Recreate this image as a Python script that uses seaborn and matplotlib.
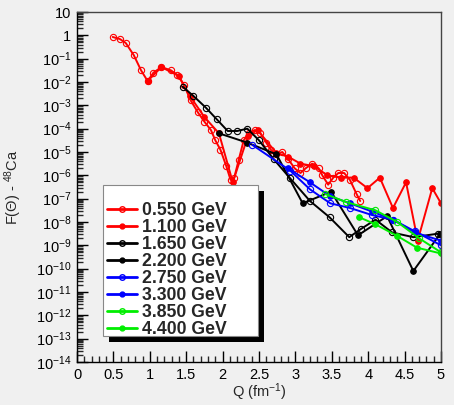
import numpy as np
import pandas as pd
import matplotlib
matplotlib.use("Agg")
import matplotlib.pyplot as plt
import seaborn as sns
from matplotlib.lines import Line2D
from matplotlib.patches import Rectangle
from matplotlib.ticker import FixedLocator, LogLocator, MultipleLocator, NullFormatter

# ---- data (Q in fm^-1, log10 of F) ----
labels = ["0.550 GeV", "1.100 GeV", "1.650 GeV", "2.200 GeV",
          "2.750 GeV", "3.300 GeV", "3.850 GeV", "4.400 GeV"]
colors = ["#ff0000", "#ff0000", "#000000", "#000000",
          "#0000ff", "#0000ff", "#00ee00", "#00ee00"]
filled = [False, True, False, True, False, True, False, True]

q_0550 = [0.49, 0.59, 0.67, 0.78, 0.88, 0.97, 1.05, 1.16, 1.29, 1.38, 1.47, 1.56,
          1.66, 1.75, 1.84, 1.90, 1.97, 2.05, 2.11, 2.16, 2.22, 2.29, 2.36, 2.44,
          2.52, 2.60, 2.66, 2.74, 2.82, 2.90, 2.99, 3.07, 3.14, 3.23, 3.32, 3.37,
          3.45, 3.52, 3.59, 3.67, 3.75, 3.84, 3.89]
f_0550 = [-0.07, -0.16, -0.33, -0.85, -1.50, -1.96, -1.60, -1.36, -1.50, -1.70,
          -2.13, -2.78, -3.30, -3.70, -4.06, -4.50, -4.90, -5.60, -6.20, -6.10,
          -5.35, -4.50, -4.20, -4.06, -4.20, -4.60, -4.90, -5.10, -5.00, -5.30,
          -5.70, -5.90, -5.70, -5.50, -5.70, -6.00, -6.40, -6.10, -5.90, -5.90,
          -6.20, -6.80, -7.10]

q_1100 = [0.97, 1.16, 1.40, 1.55, 1.75, 1.95, 2.14, 2.35, 2.48, 2.74, 2.90, 3.07,
          3.25, 3.44, 3.62, 3.80, 3.99, 4.16, 4.34, 4.52, 4.68, 4.88, 5.00]
f_1100 = [-1.96, -1.36, -1.75, -2.60, -3.50, -4.20, -6.30, -4.30, -4.06, -5.05,
          -5.20, -5.50, -5.60, -6.00, -6.10, -6.10, -6.55, -6.10, -7.40, -6.30,
          -8.80, -6.55, -7.20]

q_1650 = [1.45, 1.60, 1.77, 1.92, 2.07, 2.20, 2.34, 2.50, 2.70, 2.92, 3.20, 3.47,
          3.74, 3.90, 4.10, 4.33, 4.62, 4.96]
f_1650 = [-2.20, -2.60, -3.10, -3.60, -4.10, -4.10, -4.00, -4.50, -5.30, -6.10,
          -7.10, -7.80, -8.65, -8.30, -7.90, -8.45, -8.65, -8.50]

q_2200 = [1.95, 2.34, 2.74, 3.10, 3.49, 3.86, 4.26, 4.62, 4.99]
f_2200 = [-4.20, -4.60, -5.10, -7.20, -6.70, -8.57, -7.75, -10.10, -8.50]

q_2750 = [2.41, 2.93, 3.20, 3.48, 3.75, 4.05, 4.34, 4.64, 5.00]
f_2750 = [-4.70, -5.80, -6.60, -7.20, -7.40, -7.70, -7.90, -8.40, -9.00]

q_3300 = [2.90, 3.20, 3.48, 3.75, 4.05, 4.34, 4.64, 5.00]
f_3300 = [-5.70, -6.30, -6.90, -7.20, -7.55, -7.90, -8.45, -8.80]

q_3850 = [3.41, 3.70, 4.10, 4.40, 4.70, 5.00]
f_3850 = [-6.80, -7.15, -7.50, -8.00, -8.70, -9.30]

q_4400 = [3.88, 4.10, 4.40, 4.67, 5.00]
f_4400 = [-7.80, -8.10, -8.60, -9.10, -9.35]

series_q = [q_0550, q_1100, q_1650, q_2200, q_2750, q_3300, q_3850, q_4400]
series_f = [f_0550, f_1100, f_1650, f_2200, f_2750, f_3300, f_3850, f_4400]

x_ticks = [0, 0.5, 1, 1.5, 2, 2.5, 3, 3.5, 4, 4.5, 5]
x_ticklabels = ["0", "0.5", "1", "1.5", "2", "2.5", "3", "3.5", "4", "4.5", "5"]
y_exps = list(range(1, -15, -1))

# ---- style ----
sns.set_style("ticks")
plt.rcParams["font.family"] = ["Liberation Sans", "DejaVu Sans"]
plt.rcParams["mathtext.fontset"] = "custom"
plt.rcParams["mathtext.rm"] = "Liberation Sans"
plt.rcParams["mathtext.it"] = "Liberation Sans:italic"
plt.rcParams["mathtext.bf"] = "Liberation Sans:bold"

W, H = 454, 405
bg = "#f0f0f0"
fig = plt.figure(figsize=(W/100, H/100), dpi=100, facecolor=bg)
ax = fig.add_axes([77/W, 1-362/H, (441-77)/W, (362-12)/H])
ax.set_facecolor(bg)

for lab, col, fl, qs, fs in zip(labels, colors, filled, series_q, series_f):
    df = pd.DataFrame({"Q": qs, "F": np.power(10.0, fs)})
    kw = dict(marker="o", markersize=4.5 if not fl else 4,
              markeredgecolor=col, markeredgewidth=0.8,
              markerfacecolor=("none" if not fl else col))
    sns.lineplot(data=df, x="Q", y="F", color=col, linewidth=1.4, sort=False,
                 ax=ax, legend=False, **kw)

ax.set_yscale("log")
ax.set_xlim(0, 5)
ax.set_ylim(1e-14, 10)

ax.xaxis.set_major_locator(FixedLocator(x_ticks))
ax.set_xticklabels(x_ticklabels)
ax.xaxis.set_minor_locator(MultipleLocator(0.1))

ax.yaxis.set_major_locator(FixedLocator([10.0**e for e in y_exps]))
ylabs = []
for e in y_exps:
    if e == 1:
        ylabs.append("10")
    elif e == 0:
        ylabs.append("1")
    else:
        ylabs.append(r"$10^{%d}$" % e)
ax.set_yticklabels(ylabs)
ax.yaxis.set_minor_locator(LogLocator(base=10, subs=np.arange(2, 10), numticks=40))
ax.yaxis.set_minor_formatter(NullFormatter())

ax.tick_params(axis="both", which="major", direction="in", length=8, width=1,
               labelsize=10.5, colors="black", pad=4)
ax.tick_params(axis="both", which="minor", direction="in", length=4, width=1)
ax.tick_params(top=False, right=False, which="both")

for s in ax.spines.values():
    s.set_color("#444444")
    s.set_linewidth(1)
ax.spines["left"].set_color("black")
ax.spines["bottom"].set_color("black")

ax.set_xlabel("Q (fm$^{-1}$)", fontsize=10.5)
ax.set_ylabel(r"F($\Theta$) - $^{48}$Ca", fontsize=10.5)
ax.xaxis.set_label_coords(0.5, (362-381)/350)
ax.yaxis.set_label_coords((24-77)/364, 0.5)

# legend box with shadow (figure pixel coords, top-left origin)
bx0, by0, bx1, by1 = 103, 185, 258, 336
off = 6
fig.patches.append(Rectangle(((bx0+off)/W, 1-(by1+off)/H), (bx1-bx0)/W, (by1-by0)/H,
                             transform=fig.transFigure, facecolor="black",
                             edgecolor="none", zorder=20))
fig.patches.append(Rectangle((bx0/W, 1-by1/H), (bx1-bx0)/W, (by1-by0)/H,
                             transform=fig.transFigure, facecolor="white",
                             edgecolor="#888888", linewidth=0.8, zorder=21))

handles = [Line2D([0], [0], color=c, lw=2, marker="o",
                  markersize=4 if not f else 3.5,
                  markerfacecolor=("none" if not f else c), markeredgecolor=c)
           for c, f in zip(colors, filled)]
leg = fig.legend(handles, labels, loc="upper left",
                 bbox_to_anchor=(107/W, 1-202/H), bbox_transform=fig.transFigure,
                 borderaxespad=0, borderpad=0, frameon=False,
                 prop={"weight": "bold", "size": 12.7}, handlelength=1.7,
                 handletextpad=0.3, labelspacing=0.0)
leg.set_zorder(22)

fig.savefig("out.png", dpi=100, facecolor=bg)
